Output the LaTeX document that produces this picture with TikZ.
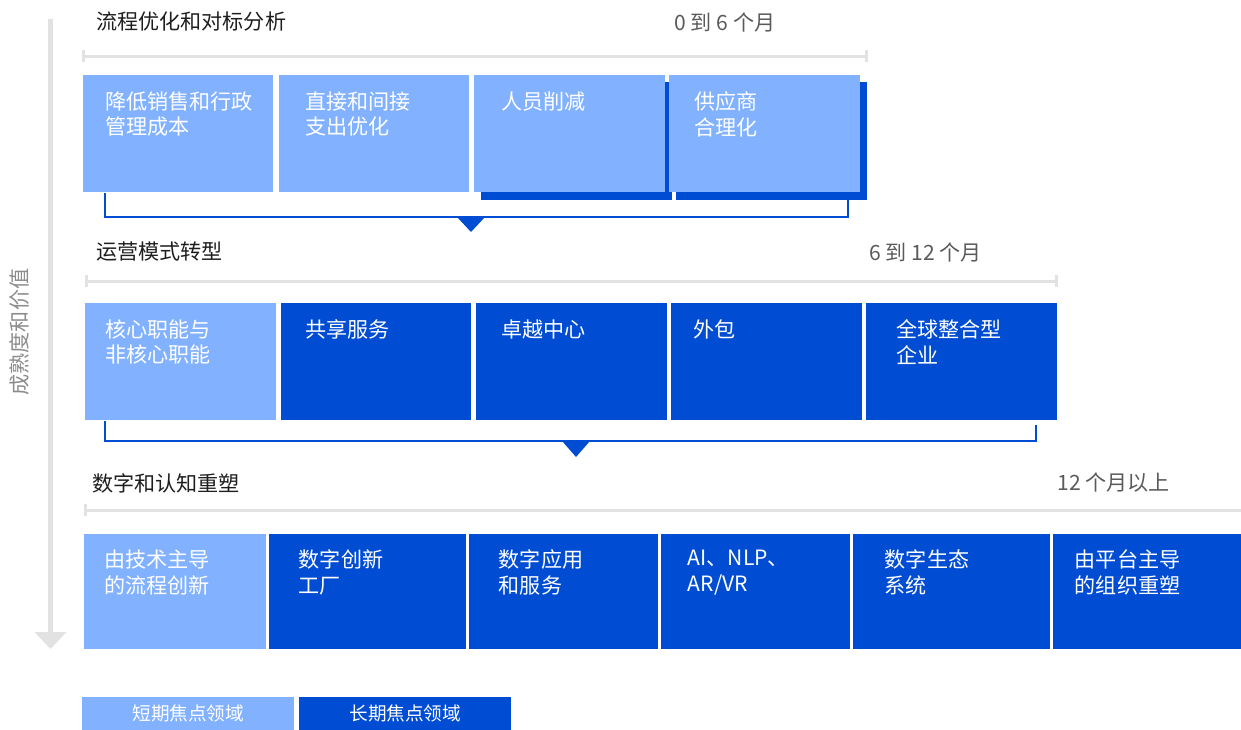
\documentclass[tikz,border=0pt]{standalone}
\usepackage{fontspec}
\setmainfont{Noto Sans CJK SC}
\usetikzlibrary{arrows.meta}

\definecolor{shortblue}{RGB}{130,178,255}
\definecolor{longblue}{RGB}{0,77,211}
\definecolor{axisgray}{RGB}{226,226,226}
\definecolor{titlegray}{RGB}{30,30,30}
\definecolor{monthgray}{RGB}{90,90,90}
\definecolor{sidegray}{RGB}{140,140,140}

\tikzset{
  box/.style={rectangle, anchor=north west, inner sep=0, outer sep=0, minimum height=2.35cm},
  shortbox/.style={box, fill=shortblue},
  longbox/.style={box, fill=longblue},
  boxtext/.style={anchor=north west, inner sep=0, align=left, text=white, font=\fontsize{12}{14.7}\selectfont},
  rowtitle/.style={anchor=west, inner sep=0, text=titlegray, font=\fontsize{12}{14.7}\selectfont},
  months/.style={anchor=west, inner sep=0, text=monthgray, font=\fontsize{12}{14.7}\selectfont},
  timeline/.style={draw=axisgray, line width=0.06cm},
  bracket/.style={draw=longblue, line width=0.04cm},
  legendbox/.style={rectangle, anchor=north west, inner sep=0, minimum height=0.66cm, font=\fontsize{10.6}{12}\selectfont}
}

\begin{document}
\begin{tikzpicture}[x=0.02cm, y=-0.02cm]
    \useasboundingbox (0,0) rectangle (1241,730);

    % maturity axis
    \coordinate (axtop) at (50.5,19);
    \coordinate (axend) at (50.5,649);
    \draw [draw=axisgray, line width=0.1cm, -{Triangle[width=0.62cm, length=0.34cm]}] (axtop) -- (axend);
    \node [rotate=90, inner sep=0, text=sidegray, font=\fontsize{12}{14.7}\selectfont] (axlabel) at (20,332) {成熟度和价值};

    % stage 1
    \node [rowtitle] (title1) at (96,22) {流程优化和对标分析};
    \node [months] (months1) at (674,22) {0 到 6 个月};
    \coordinate (tl1a) at (83,56);
    \coordinate (tl1b) at (866,56);
    \draw [timeline] (tl1a) -- (tl1b);
    \draw [timeline] ([shift={(0,-6)}]tl1a) -- ([shift={(0,6)}]tl1a);
    \draw [timeline] ([shift={(0,-6)}]tl1b) -- ([shift={(0,6)}]tl1b);

    \fill [longblue] (481,82) rectangle (672,200);
    \fill [longblue] (676,82) rectangle (867,200);
    \node [shortbox, minimum width=3.8cm] (b11) at (83,75) {};
    \node [shortbox, minimum width=3.8cm] (b12) at (279,75) {};
    \node [shortbox, minimum width=3.82cm] (b13) at (474,75) {};
    \node [shortbox, minimum width=3.82cm] (b14) at (669,75) {};
    \node [boxtext] (t11) at ([shift={(22,16)}]b11.north west) {降低销售和行政\\管理成本};
    \node [boxtext] (t12) at ([shift={(26,16)}]b12.north west) {直接和间接\\支出优化};
    \node [boxtext] (t13) at ([shift={(27,16)}]b13.north west) {人员削减};
    \node [boxtext] (t14) at ([shift={(25,16)}]b14.north west) {供应商\\合理化};

    \coordinate (br1a) at (105,193);
    \coordinate (br1b) at (848,200);
    \coordinate (tip1) at (471,217);
    \draw [bracket] (br1a) |- (br1b |- tip1) -- (br1b);
    \fill [longblue] ([shift={(-14,0)}]tip1) -- ([shift={(14,0)}]tip1) -- ([shift={(0,15)}]tip1) -- cycle;

    % stage 2
    \node [rowtitle] (title2) at (96,252) {运营模式转型};
    \node [months] (months2) at (869,252) {6 到 12 个月};
    \coordinate (tl2a) at (86,281);
    \coordinate (tl2b) at (1056,281);
    \draw [timeline] (tl2a) -- (tl2b);
    \draw [timeline] ([shift={(0,-6)}]tl2a) -- ([shift={(0,6)}]tl2a);
    \draw [timeline] ([shift={(0,-6)}]tl2b) -- ([shift={(0,6)}]tl2b);

    \node [shortbox, minimum width=3.82cm] (b21) at (85,303) {};
    \node [longbox, minimum width=3.8cm] (b22) at (281,303) {};
    \node [longbox, minimum width=3.82cm] (b23) at (476,303) {};
    \node [longbox, minimum width=3.82cm] (b24) at (671,303) {};
    \node [longbox, minimum width=3.82cm] (b25) at (866,303) {};
    \node [boxtext] (t21) at ([shift={(20,16)}]b21.north west) {核心职能与\\非核心职能};
    \node [boxtext] (t22) at ([shift={(24,16)}]b22.north west) {共享服务};
    \node [boxtext] (t23) at ([shift={(25,16)}]b23.north west) {卓越中心};
    \node [boxtext] (t24) at ([shift={(22,16)}]b24.north west) {外包};
    \node [boxtext] (t25) at ([shift={(30,16)}]b25.north west) {全球整合型\\企业};

    \coordinate (br2a) at (105,421);
    \coordinate (br2b) at (1036,425);
    \coordinate (tip2) at (576,441);
    \draw [bracket] (br2a) |- (br2b |- tip2) -- (br2b);
    \fill [longblue] ([shift={(-14,0)}]tip2) -- ([shift={(14,0)}]tip2) -- ([shift={(0,16)}]tip2) -- cycle;

    % stage 3
    \node [rowtitle] (title3) at (92,483) {数字和认知重塑};
    \node [months] (months3) at (1057,483) {12 个月以上};
    \coordinate (tl3a) at (85,510);
    \coordinate (tl3b) at (1241,510);
    \draw [timeline] (tl3a) -- (tl3b);
    \draw [timeline] ([shift={(0,-6)}]tl3a) -- ([shift={(0,6)}]tl3a);

    \node [shortbox, minimum width=3.64cm, minimum height=2.31cm] (b31) at (84,533.5) {};
    \node [longbox, minimum width=3.95cm, minimum height=2.31cm] (b32) at (268.5,533.5) {};
    \node [longbox, minimum width=3.79cm, minimum height=2.31cm] (b33) at (468.5,533.5) {};
    \node [longbox, minimum width=3.8cm, minimum height=2.31cm] (b34) at (660.5,533.5) {};
    \node [longbox, minimum width=3.96cm, minimum height=2.31cm] (b35) at (852.5,533.5) {};
    \node [longbox, minimum width=3.77cm, minimum height=2.31cm] (b36) at (1052.5,533.5) {};
    \node [boxtext] (t31) at ([shift={(20,16)}]b31.north west) {由技术主导\\的流程创新};
    \node [boxtext] (t32) at ([shift={(30,16)}]b32.north west) {数字创新\\工厂};
    \node [boxtext] (t33) at ([shift={(30,16)}]b33.north west) {数字应用\\和服务};
    \node [boxtext] (t34) at ([shift={(27,16)}]b34.north west) {AI、NLP、\\AR/VR};
    \node [boxtext] (t35) at ([shift={(32,16)}]b35.north west) {数字生态\\系统};
    \node [boxtext] (t36) at ([shift={(22,16)}]b36.north west) {由平台主导\\的组织重塑};

    % legend
    \node [legendbox, fill=shortblue, text=white, minimum width=4.24cm] (legshort) at (82,697) {短期焦点领域};
    \node [legendbox, fill=longblue, text=white, minimum width=4.24cm] (leglong) at (299,697) {长期焦点领域};
\end{tikzpicture}
\end{document}
